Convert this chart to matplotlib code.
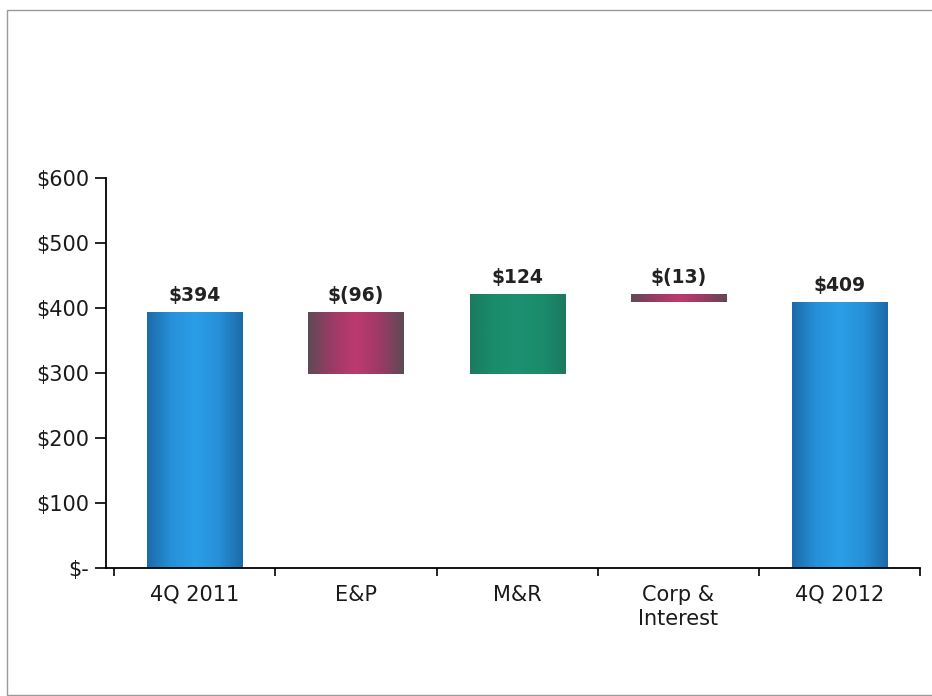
import matplotlib
matplotlib.use("Agg")
import matplotlib.pyplot as plt
import numpy as np
from matplotlib.colors import LinearSegmentedColormap
from matplotlib.patches import Rectangle

categories = ["4Q 2011", "E&P", "M&R", "Corp &\nInterest", "4Q 2012"]
changes = [394, -96, 124, -13, 409]
kinds = ["total", "delta", "delta", "delta", "total"]
value_labels = ["$394", "$(96)", "$124", "$(13)", "$409"]
ytick_vals = [0, 100, 200, 300, 400, 500, 600]
ytick_labels = ["$-", "$100", "$200", "$300", "$400", "$500", "$600"]

plt.rcParams['font.family'] = ['DejaVu Sans']

fig = plt.figure(figsize=(9.32, 6.96), dpi=100)
ax = fig.add_axes([0.1137, 0.1839, 0.987 - 0.1137, 0.7443 - 0.1839])

# compute waterfall bottoms / tops
bottoms, heights = [], []
running = 0
for v, k in zip(changes, kinds):
    if k == "total":
        bottoms.append(0)
        heights.append(v)
        running = v
    else:
        if v >= 0:
            bottoms.append(running)
            heights.append(v)
        else:
            bottoms.append(running + v)
            heights.append(-v)
        running += v

cmap_blue = LinearSegmentedColormap.from_list("b", ["#1c6aa8", "#2690d8", "#2a9ee8", "#2690d8", "#1c6aa8"])
cmap_red = LinearSegmentedColormap.from_list("r", ["#5e4a55", "#9c3a66", "#bd3a70", "#9c3a66", "#5e4a55"])
cmap_green = LinearSegmentedColormap.from_list("g", ["#1a7a60", "#1a8c6c", "#1c9070", "#1a8c6c", "#1a7a60"])

width = 0.59
x = np.arange(len(categories))
grad = np.linspace(0, 1, 256).reshape(1, -1)

bars = ax.bar(x, heights, bottom=bottoms, width=width, color="none", edgecolor="none")
for i, b in enumerate(bars):
    if kinds[i] == "total":
        cm = cmap_blue
    elif changes[i] < 0:
        cm = cmap_red
    else:
        cm = cmap_green
    x0, y0 = b.get_x(), b.get_y()
    w, h = b.get_width(), b.get_height()
    im = ax.imshow(grad, cmap=cm, aspect="auto", extent=[x0, x0 + w, y0, y0 + h],
                   zorder=2, interpolation="bicubic")
    im.set_clip_path(b)

ax.set_xlim(-0.552, 4.44)
ax.set_ylim(0, 600)

for i, b in enumerate(bars):
    top = b.get_y() + b.get_height()
    ax.text(x[i], top + 11, value_labels[i], ha="center", va="bottom",
            fontsize=13.5, fontweight="bold", color="#222222")

ax.set_yticks(ytick_vals)
ax.set_yticklabels(ytick_labels, fontsize=15, color="#1a1a1a")
ax.set_xticks(x)
ax.set_xticklabels(categories, fontsize=15, color="#1a1a1a", linespacing=1.25)
ax.set_xticks(np.arange(len(categories) + 1) - 0.5, minor=True)
ax.tick_params(axis="x", which="major", length=0, pad=12)
ax.tick_params(axis="x", which="minor", length=6, width=1.2, direction="out")
ax.tick_params(axis="y", length=8, width=1.2, direction="out", pad=4)

for s in ["top", "right"]:
    ax.spines[s].set_visible(False)
ax.spines["left"].set_linewidth(1.3)
ax.spines["bottom"].set_linewidth(1.3)

# outer frame
fig.patches.append(Rectangle((7 / 932, 1.5 / 696), 1.2, (696 - 11.5) / 696, transform=fig.transFigure,
                             fill=False, edgecolor="#999999", linewidth=1.0))

fig.savefig("out.png", dpi=100)
